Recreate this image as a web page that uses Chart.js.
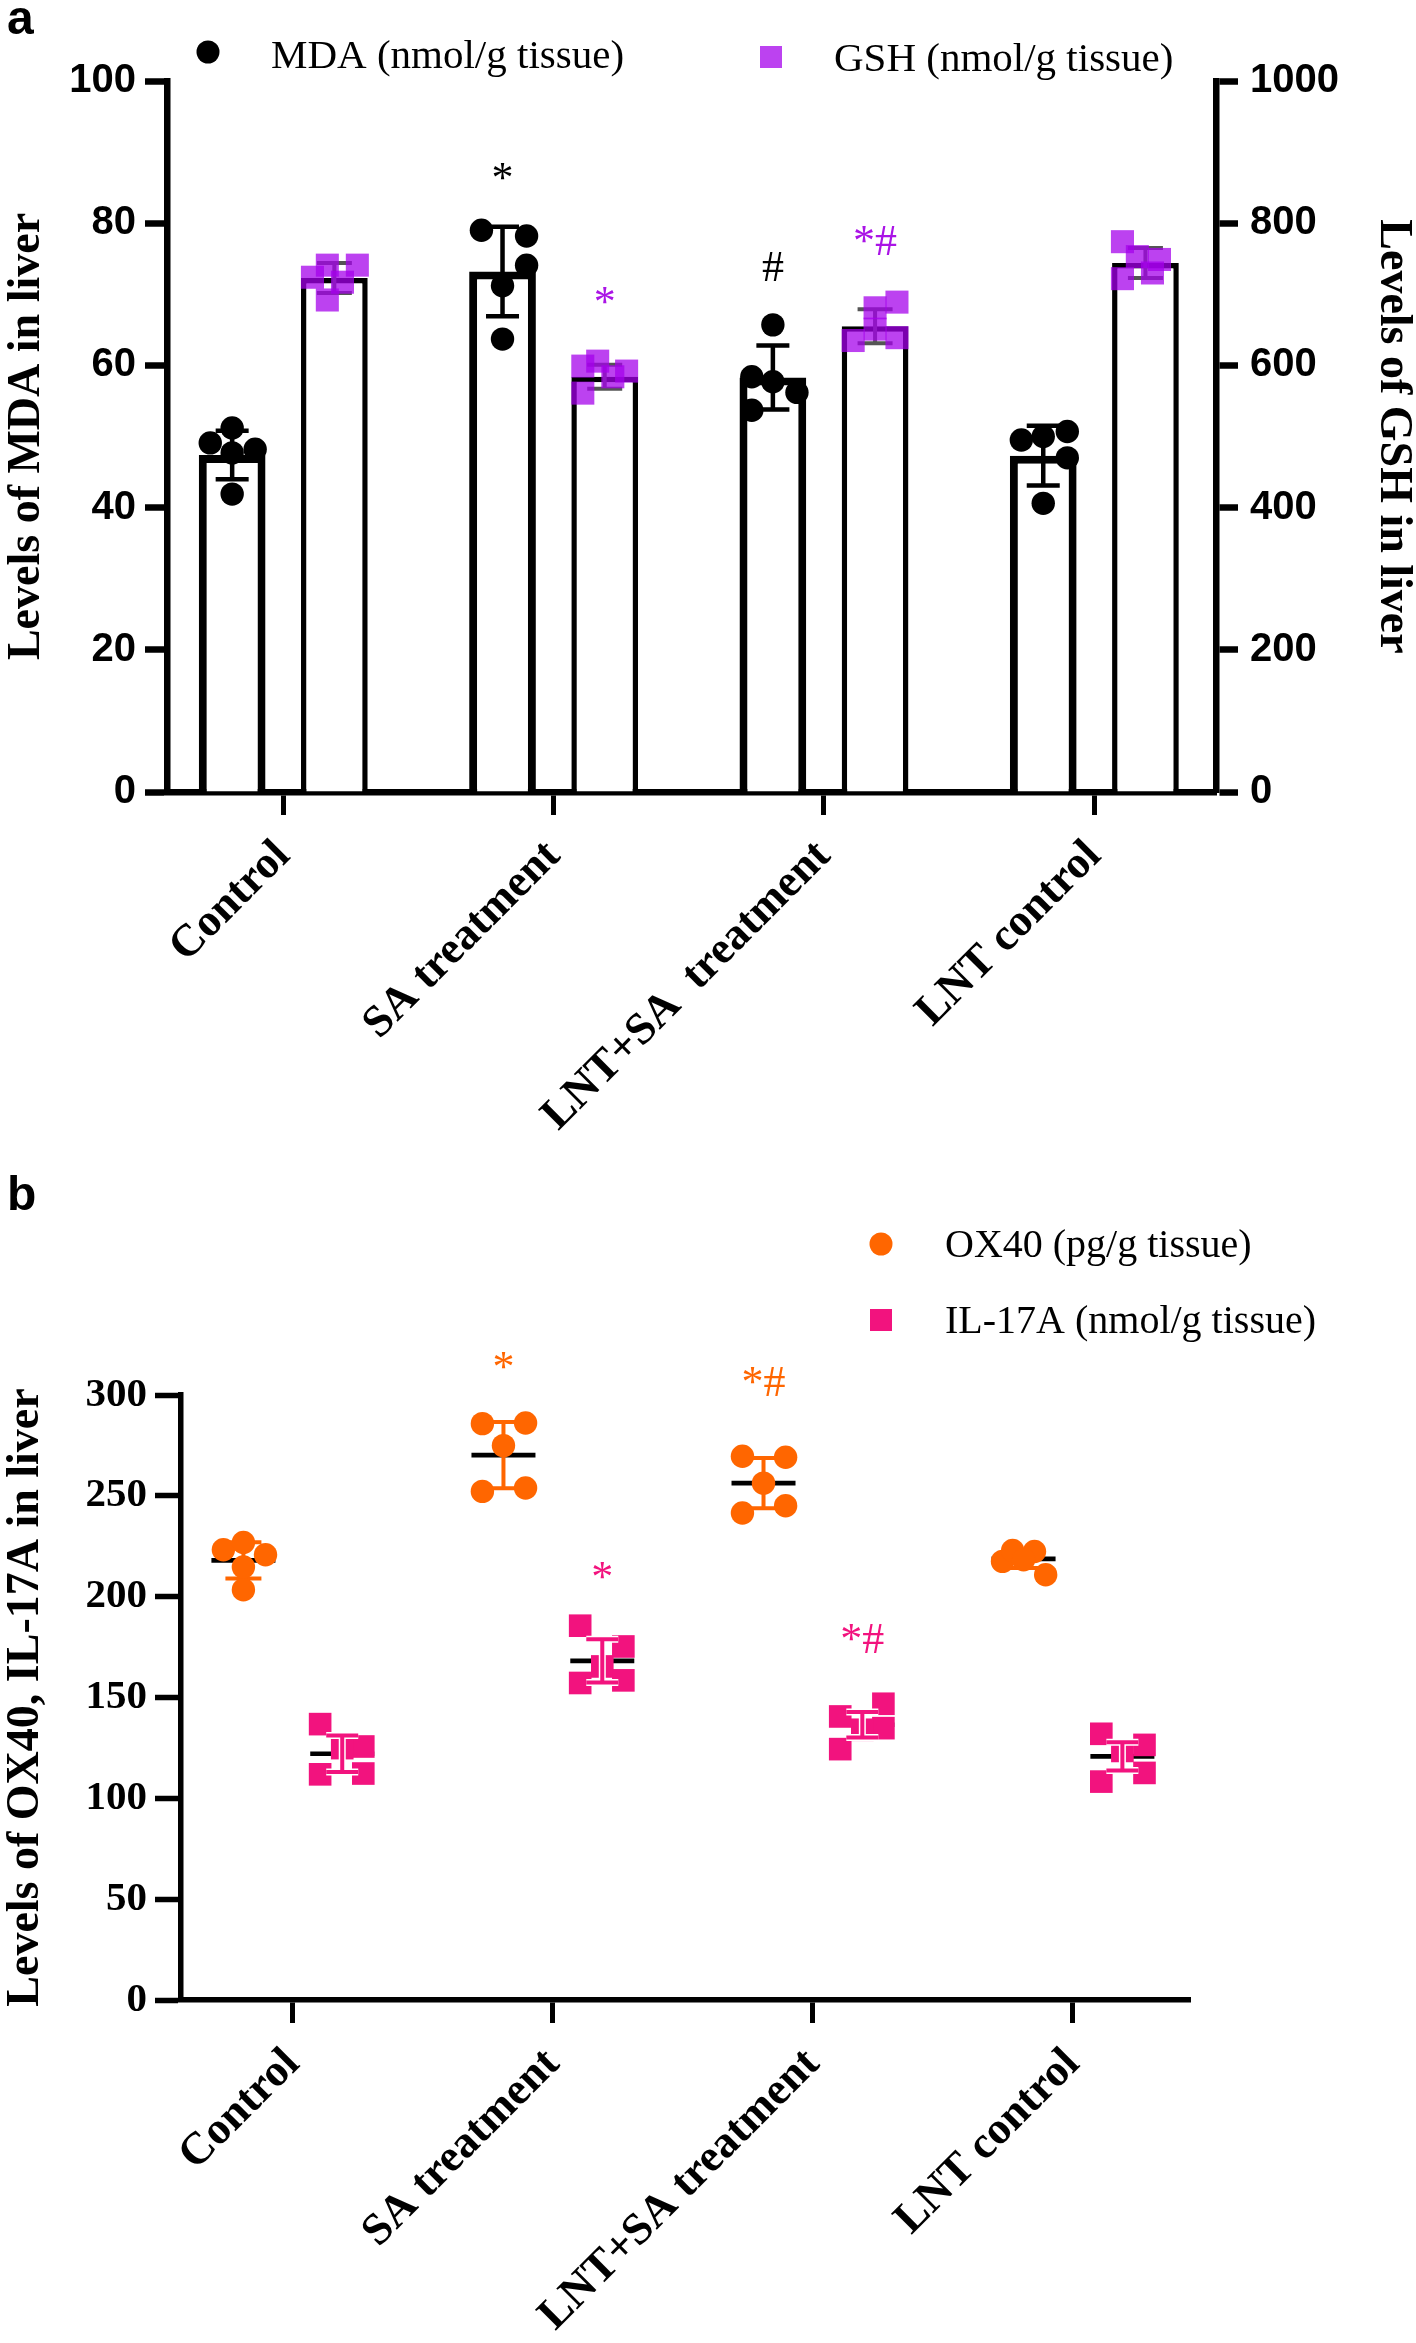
<!DOCTYPE html>
<html>
<head>
<meta charset="utf-8">
<script src="https://cdn.jsdelivr.net/npm/chart.js@4.4.1/dist/chart.umd.min.js"></script>
<style>
  html, body { margin: 0; padding: 0; background: #fff; }
  #wrapA { position: absolute; left: 0; top: 0; width: 1416px; height: 1170px; }
  #wrapB { position: absolute; left: 0; top: 1170px; width: 1416px; height: 1173px; }
</style>
</head>
<body>
<div id="wrapA"><canvas id="chartA" width="1416" height="1170"></canvas></div>
<div id="wrapB"><canvas id="chartB" width="1416" height="1173"></canvas></div>
<script>
// ---- data ----
const groupsA = ['Control', 'SA treatment', 'LNT+SA  treatment', 'LNT control'];
const groupsB = ['Control', 'SA treatment', 'LNT+SA treatment', 'LNT control'];

// panel a: MDA (left axis) and GSH (right axis), bars = mean, whiskers = SD
const mdaMean = [47.4, 73.2, 58.3, 47.3];
const mdaSd = [3.4, 6.3, 4.5, 4.2];
const mdaPoints = [
  [51.2, 49.1, 47.7, 48.2, 41.9],
  [79.0, 78.2, 74.1, 71.2, 63.7],
  [65.7, 58.4, 57.7, 56.2, 53.7],
  [49.5, 50.0, 50.7, 47.0, 40.6]
];
const gshMean = [723, 584, 655, 744];
const gshSd = [21, 17, 24, 21];
const gshPoints = [
  [741, 741, 724, 717, 692],
  [599, 606, 584, 592, 561],
  [689, 681, 651, 639, 635],
  [774, 753, 749, 730, 722]
];

// panel b: OX40 and IL-17A, line = mean, whiskers = SD
const ox40Mean = [218.0, 270.2, 256.3, 218.7];
const ox40Sd = [9, 16.4, 12.5, 4.5];
const ox40Points = [
  [223.3, 226.9, 220.8, 214.7, 203.4],
  [285.8, 286.1, 274.9, 252.2, 253.9],
  [269.6, 269.1, 256.3, 241.5, 245.1],
  [217.5, 222.9, 222.4, 218.3, 210.9]
];
const il17Mean = [122.1, 168.2, 136.5, 120.8];
const il17Sd = [9, 10.7, 6.3, 7];
const il17Points = [
  [136.8, 125.7, 124.9, 111.9, 112.3],
  [185.6, 175.3, 165.4, 157.2, 158.5],
  [146.9, 140.6, 134.8, 134.0, 124.4],
  [132.0, 126.5, 123.5, 108.3, 112.6]
];

// significance marks: category, series, text, y (in that series' units)
const marksA = [
  {cat: 1, series: 'mda', text: '*', y: 84.4},
  {cat: 1, series: 'gsh', text: '*', y: 670},
  {cat: 2, series: 'mda', text: '#', y: 71.9},
  {cat: 2, series: 'gsh', text: '*#', y: 755}
];
const marksB = [
  {cat: 1, series: 'ox40', text: '*', y: 307},
  {cat: 1, series: 'il17', text: '*', y: 203},
  {cat: 2, series: 'ox40', text: '*#', y: 299.5},
  {cat: 2, series: 'il17', text: '*#', y: 172}
];

// ---- layout (horizontal scatter of the dots, in category units) ----
const mdaJitter = [
  [0, -0.081, 0, 0.085, 0],
  [-0.078, 0.089, 0.089, 0, 0],
  [0, -0.078, 0, 0.089, -0.078],
  [-0.081, 0, 0.089, 0.089, 0]
];
const gshJitter = [
  [-0.026, 0.085, -0.081, 0.03, -0.026],
  [-0.081, -0.026, 0.03, 0.081, -0.081],
  [0.081, 0, 0, 0.081, -0.081],
  [-0.085, -0.03, 0.052, 0.026, -0.085]
];
const ox40Jitter = [
  [-0.077, 0, 0.085, 0, 0],
  [-0.081, 0.085, 0, -0.081, 0.085],
  [-0.081, 0.085, 0, -0.081, 0.085],
  [-0.081, -0.042, 0.042, 0, 0.085]
];
const il17Jitter = [
  [-0.085, 0.081, 0, -0.085, 0.081],
  [-0.085, 0.081, 0, -0.085, 0.081],
  [0.081, -0.085, 0.081, 0, -0.085],
  [-0.081, 0.085, 0, -0.081, 0.085]
];

const PURPLE = 'rgba(165, 0, 235, 0.74)';
const PURPLE_TXT = 'rgb(170, 20, 230)';
const ORANGE = '#FF6600';
const PINK = '#F2137E';

function scatterData(points, jitter, off) {
  let out = [];
  points.forEach(function(grp, i) {
    grp.forEach(function(v, k) {
      out.push({x: i + off + jitter[i][k], y: v});
    });
  });
  return out;
}

function whisker(ctx, xs, ys, i, off, mean, sd, cap) {
  let x = xs.getPixelForValue(i + off);
  let y1 = ys.getPixelForValue(mean + sd);
  let y2 = ys.getPixelForValue(mean - sd);
  ctx.beginPath();
  ctx.moveTo(x, y1); ctx.lineTo(x, y2);
  ctx.moveTo(x - cap, y1); ctx.lineTo(x + cap, y1);
  ctx.moveTo(x - cap, y2); ctx.lineTo(x + cap, y2);
  ctx.stroke();
}

const seriesA = {
  mda: {axis: 'y', off: -0.189, mean: mdaMean, sd: mdaSd, color: '#000', width: 4.5, cap: 16.5, txt: '#000'},
  gsh: {axis: 'y1', off: 0.189, mean: gshMean, sd: gshSd, color: '#555', width: 4, cap: 17.5, txt: PURPLE_TXT}
};
const seriesB = {
  ox40: {axis: 'y', off: -0.19, mean: ox40Mean, sd: ox40Sd, color: ORANGE, width: 4, cap: 18, txt: ORANGE},
  il17: {axis: 'y', off: 0.19, mean: il17Mean, sd: il17Sd, color: PINK, width: 4, cap: 16, txt: PINK}
};

function drawMarks(chart, marks, series) {
  const ctx = chart.ctx;
  ctx.save();
  ctx.font = '44px "Liberation Serif"';
  ctx.textAlign = 'center';
  ctx.textBaseline = 'alphabetic';
  marks.forEach(function(m) {
    let s = series[m.series];
    ctx.fillStyle = s.txt;
    ctx.fillText(m.text, chart.scales.x.getPixelForValue(m.cat + s.off), chart.scales[s.axis].getPixelForValue(m.y));
  });
  ctx.restore();
}

const overlayA = {
  id: 'overlayA',
  beforeDatasetDraw(chart, args) {
    let ds = chart.data.datasets[args.index];
    if (!ds.errOf) return;
    let s = seriesA[ds.errOf];
    let ctx = chart.ctx;
    ctx.save();
    ctx.strokeStyle = s.color;
    ctx.lineWidth = s.width;
    s.mean.forEach(function(m, i) {
      whisker(ctx, chart.scales.x, chart.scales[s.axis], i, s.off, m, s.sd[i], s.cap);
    });
    ctx.restore();
  },
  afterDraw(chart) {
    drawMarks(chart, marksA, seriesA);
    let ctx = chart.ctx;
    ctx.save();
    ctx.fillStyle = '#000';
    ctx.font = 'bold 48px "Liberation Sans"';
    ctx.textAlign = 'left';
    ctx.fillText('a', 7, 34);
    // legend
    ctx.beginPath();
    ctx.arc(208, 52, 11.5, 0, Math.PI * 2);
    ctx.fill();
    ctx.fillStyle = PURPLE;
    ctx.fillRect(760, 46, 22, 22);
    ctx.fillStyle = '#000';
    ctx.font = '41px "Liberation Serif"';
    ctx.fillText('MDA (nmol/g tissue)', 271, 68);
    ctx.fillText('GSH (nmol/g tissue)', 834, 71);
    ctx.restore();
  }
};

const overlayB = {
  id: 'overlayB',
  beforeDatasetDraw(chart, args) {
    let ds = chart.data.datasets[args.index];
    if (!ds.errOf) return;
    let s = seriesB[ds.errOf];
    let ctx = chart.ctx, xs = chart.scales.x, ys = chart.scales.y;
    ctx.save();
    // mean line
    ctx.strokeStyle = '#000';
    ctx.lineWidth = 4.7;
    s.mean.forEach(function(m, i) {
      let x = xs.getPixelForValue(i + s.off), y = ys.getPixelForValue(m);
      ctx.beginPath();
      ctx.moveTo(x - 32, y); ctx.lineTo(x + 32, y);
      ctx.stroke();
    });
    if (ds.errOf === 'ox40') {
      ctx.strokeStyle = s.color;
      ctx.lineWidth = s.width;
      s.mean.forEach(function(m, i) {
        whisker(ctx, xs, ys, i, s.off, m, s.sd[i], s.cap);
      });
    }
    ctx.restore();
  },
  afterDatasetDraw(chart, args) {
    let ds = chart.data.datasets[args.index];
    if (ds.errOf !== 'il17') return;
    let s = seriesB.il17;
    let ctx = chart.ctx;
    ctx.save();
    ctx.strokeStyle = '#fff';
    ctx.lineWidth = 7;
    s.mean.forEach(function(m, i) {
      whisker(ctx, chart.scales.x, chart.scales.y, i, s.off, m, s.sd[i], s.cap);
    });
    ctx.strokeStyle = s.color;
    ctx.lineWidth = s.width;
    s.mean.forEach(function(m, i) {
      whisker(ctx, chart.scales.x, chart.scales.y, i, s.off, m, s.sd[i], s.cap);
    });
    ctx.restore();
  },
  afterDraw(chart) {
    drawMarks(chart, marksB, seriesB);
    let ctx = chart.ctx;
    ctx.save();
    ctx.fillStyle = '#000';
    ctx.font = 'bold 48px "Liberation Sans"';
    ctx.textAlign = 'left';
    ctx.fillText('b', 7, 40);
    ctx.fillStyle = ORANGE;
    ctx.beginPath();
    ctx.arc(881, 74, 11.5, 0, Math.PI * 2);
    ctx.fill();
    ctx.fillStyle = PINK;
    ctx.fillRect(870, 139, 22, 22);
    ctx.fillStyle = '#000';
    ctx.font = '40px "Liberation Serif"';
    ctx.fillText('OX40 (pg/g tissue)', 945, 87);
    ctx.fillText('IL-17A (nmol/g tissue)', 945, 163);
    ctx.restore();
  }
};

function xAxis(labels, height, border) {
  return {
    type: 'linear', min: -0.43, max: 3.45, offset: false,
    afterBuildTicks: function(s) { s.ticks = labels.map(function(l, i) { return {value: i}; }); },
    afterFit: function(s) { s.height = height; },
    ticks: {
      autoSkip: false, minRotation: 45, maxRotation: 45, padding: 15, color: '#000',
      font: {family: 'Liberation Serif', weight: 'bold', size: 45},
      callback: function(v) { return labels[Math.round(v)]; }
    },
    grid: {offset: false, drawOnChartArea: false, drawTicks: true, tickLength: 23, tickWidth: 5, color: '#000'},
    border: {display: true, width: border, color: '#000'}
  };
}

function plainNum(v) { return String(v); }

new Chart(document.getElementById('chartA'), {
  type: 'bar',
  data: {
    datasets: [
      {type: 'bar', label: 'MDA', yAxisID: 'y', order: 10,
       data: mdaMean.map(function(v, i) { return {x: i, y: v}; }),
       backgroundColor: '#fff', borderColor: '#000', borderWidth: 8,
       categoryPercentage: 0.756, barPercentage: 0.653},
      {type: 'bar', label: 'GSH', yAxisID: 'y1', order: 10,
       data: gshMean.map(function(v, i) { return {x: i, y: v}; }),
       backgroundColor: '#fff', borderColor: '#000', borderWidth: 5.5,
       categoryPercentage: 0.756, barPercentage: 0.653},
      {type: 'scatter', label: 'MDA points', yAxisID: 'y', order: 2, errOf: 'mda',
       data: scatterData(mdaPoints, mdaJitter, seriesA.mda.off),
       pointStyle: 'circle', pointRadius: 11.7, backgroundColor: '#000', borderWidth: 0},
      {type: 'scatter', label: 'GSH points', yAxisID: 'y1', order: 1, errOf: 'gsh',
       data: scatterData(gshPoints, gshJitter, seriesA.gsh.off),
       pointStyle: 'rect', pointRadius: 16.3, backgroundColor: PURPLE, borderWidth: 0}
    ]
  },
  options: {
    responsive: false, animation: false, events: [],
    layout: {padding: {top: 81, left: 0, right: 0, bottom: 0}},
    plugins: {legend: {display: false}, tooltip: {enabled: false}},
    scales: {
      x: xAxis(groupsA, 378, 6.5),
      y: {
        position: 'left', min: 0, max: 100,
        afterFit: function(s) { s.width = 167; },
        ticks: {stepSize: 20, padding: 9, color: '#000', callback: plainNum,
                font: {family: 'Liberation Sans', weight: 'bold', size: 40}},
        grid: {drawOnChartArea: false, tickLength: 22, tickWidth: 6.5, color: '#000'},
        border: {width: 6.5, color: '#000'},
        title: {display: true, text: 'Levels of MDA in liver', color: '#000',
                font: {family: 'Liberation Serif', weight: 'bold', size: 46, lineHeight: 1}, padding: {top: 4, bottom: 0}}
      },
      y1: {
        position: 'right', min: 0, max: 1000,
        afterFit: function(s) { s.width = 200; },
        ticks: {stepSize: 200, padding: 12, color: '#000', callback: plainNum,
                font: {family: 'Liberation Sans', weight: 'bold', size: 40}},
        grid: {drawOnChartArea: false, tickLength: 22, tickWidth: 6.5, color: '#000'},
        border: {width: 6.5, color: '#000'},
        title: {display: true, text: 'Levels of GSH in liver', color: '#000',
                font: {family: 'Liberation Serif', weight: 'bold', size: 46, lineHeight: 1}, padding: {top: 0, bottom: 0}}
      }
    }
  },
  plugins: [overlayA]
});

new Chart(document.getElementById('chartB'), {
  type: 'scatter',
  data: {
    datasets: [
      {label: 'OX40 (pg/g tissue)', order: 2, errOf: 'ox40',
       data: scatterData(ox40Points, ox40Jitter, seriesB.ox40.off),
       pointStyle: 'circle', pointRadius: 11.7, backgroundColor: ORANGE, borderWidth: 0},
      {label: 'IL-17A (nmol/g tissue)', order: 1, errOf: 'il17',
       data: scatterData(il17Points, il17Jitter, seriesB.il17.off),
       pointStyle: 'rect', pointRadius: 16, backgroundColor: PINK, borderWidth: 0}
    ]
  },
  options: {
    responsive: false, animation: false, events: [],
    layout: {padding: {top: 225, left: 0, right: 226, bottom: 0}},
    plugins: {legend: {display: false}, tooltip: {enabled: false}},
    scales: {
      x: xAxis(groupsB, 343, 5.5),
      y: {
        position: 'left', min: 0, max: 300,
        afterFit: function(s) { s.width = 181; },
        ticks: {stepSize: 50, padding: 8, color: '#000', callback: plainNum,
                font: {family: 'Liberation Serif', weight: 'bold', size: 41}},
        grid: {drawOnChartArea: false, tickLength: 26, tickWidth: 5.5, color: '#000'},
        border: {width: 5.5, color: '#000'},
        title: {display: true, text: 'Levels of OX40, IL-17A in liver', color: '#000',
                font: {family: 'Liberation Serif', weight: 'bold', size: 46, lineHeight: 1}, padding: {top: 3, bottom: 0}}
      }
    }
  },
  plugins: [overlayB]
});
</script>
</body>
</html>
